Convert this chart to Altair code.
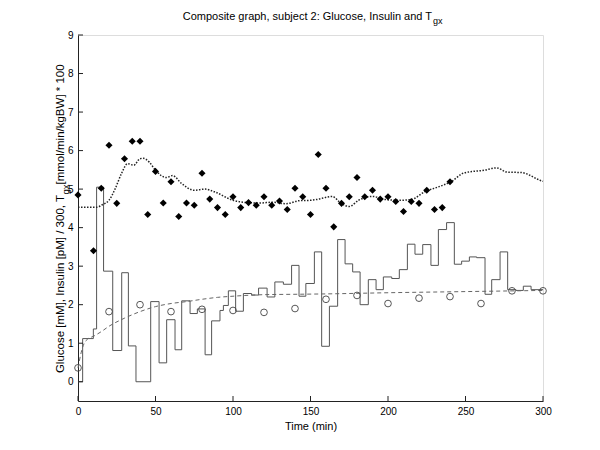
import altair as alt
import pandas as pd

# ---- data ----
diamond_t = [0, 10, 15, 20, 25, 30, 35, 40, 45, 50, 55, 60, 65, 70, 75, 80, 85, 90, 95, 100,
             105, 110, 115, 120, 125, 130, 135, 140, 145, 150, 155, 160, 165, 170, 175, 180,
             185, 190, 195, 200, 205, 210, 215, 220, 225, 230, 235, 240]
diamond_v = [4.85, 3.4, 5.02, 6.14, 4.63, 5.79, 6.24, 6.24, 4.34, 5.46, 4.64, 5.19, 4.29, 4.64,
             4.58, 5.41, 4.74, 4.52, 4.34, 4.8, 4.52, 4.65, 4.58, 4.8, 4.58, 4.69, 4.47, 5.02,
             4.8, 4.34, 5.9, 5.02, 4.02, 4.63, 4.8, 5.3, 4.8, 4.97, 4.74, 4.8, 4.68, 4.42, 4.68,
             4.63, 4.97, 4.47, 4.52, 5.19]

circle_t = [0, 20, 40, 60, 80, 100, 120, 140, 160, 180, 200, 220, 240, 260, 280, 300]
circle_v = [0.36, 1.82, 2.0, 1.82, 1.88, 1.85, 1.8, 1.9, 2.14, 2.24, 2.03, 2.17, 2.21, 2.03, 2.36, 2.36]

fit_t = [0, 2, 4, 6, 10, 15, 20, 30, 40, 50, 60, 70, 80, 90, 100, 120, 140, 160, 200, 250, 300]
fit_v = [0.36, 0.75, 1.0, 1.1, 1.18, 1.3, 1.44, 1.65, 1.82, 1.95, 2.03, 2.08, 2.14, 2.19, 2.22,
         2.26, 2.27, 2.28, 2.31, 2.34, 2.37]

tgx_t = [0, 12, 16, 20, 24, 28, 32, 36, 40, 42, 46, 50, 57, 61, 67, 75, 82, 88, 100, 109, 117,
         126, 134, 143, 150, 154, 164, 170, 175, 181, 190, 198, 207, 215, 224, 232, 241, 249,
         262, 270, 277, 286, 298, 300]
tgx_v = [4.53, 4.53, 4.6, 4.71, 5.01, 5.4, 5.66, 5.62, 5.79, 5.8, 5.7, 5.49, 5.3, 5.35, 5.14,
         4.97, 5.0, 4.93, 4.71, 4.65, 4.64, 4.66, 4.62, 4.7, 4.71, 4.73, 4.81, 4.62, 4.55, 4.71,
         4.81, 4.73, 4.71, 4.73, 4.94, 5.05, 5.2, 5.42, 5.49, 5.55, 5.44, 5.43, 5.23, 5.2]

ins_t = [0, 3, 9.9, 12, 16.5, 22.4, 28.2, 32.5, 37.4, 46.9, 52.3, 57.2, 62.6, 66.9, 72.3, 77,
         82, 86.2, 91.6, 93.8, 97, 101.7, 106.7, 112, 116.5, 122, 127, 132.5, 137.8, 142.6,
         147, 152.5, 157.2, 162.2, 167.5, 172.3, 177.2, 182, 187.3, 192.3, 197, 202.4, 207.3,
         212.5, 217.4, 222.4, 227.7, 232.5, 237.8, 242.8, 247.5, 252.5, 257.2, 262.6, 266.9,
         272.3, 277.2, 282.6, 287.3, 292.3, 300]
ins_v = [0, 1.12, 1.37, 5.05, 2.87, 0.81, 2.83, 0.93, 0, 2.08, 0.49, 1.61, 0.83, 2.1, 1.77, 1.89,
         0.7, 1.58, 1.85, 1.98, 2.36, 1.83, 2.29, 2.25, 2.43, 2.2, 2.59, 2.53, 3.02, 2.22, 2.55,
         3.37, 0.92, 1.96, 3.69, 3.06, 2.85, 2.0, 2.65, 2.39, 2.72, 2.68, 2.91, 3.57, 3.31, 3.56,
         3.02, 3.95, 4.13, 3.05, 3.13, 3.24, 3.22, 2.27, 2.65, 3.37, 2.39, 2.37, 2.48, 2.39, 2.39]

x_ticks = [0, 50, 100, 150, 200, 250, 300]
y_ticks = [0, 1, 2, 3, 4, 5, 6, 7, 8, 9]

W, H = 465, 366
FONT = "Liberation Sans"

xs = alt.Scale(domain=[0, 300], nice=False, zero=False)
ys = alt.Scale(domain=[-0.5, 9], nice=False, zero=False)

x_axis = alt.Axis(values=x_ticks, title="Time (min)", grid=False, ticks=False, tickSize=0,
                  labelPadding=5, titlePadding=4, labelFontSize=10, titleFontSize=11,
                  labelFont=FONT, titleFont=FONT, labelColor="#000", titleColor="#000",
                  titleFontWeight="normal", domainColor="#222", labelFlush=False)
y_axis = alt.Axis(values=y_ticks, title=None, grid=False, ticks=False, tickSize=0,
                  labelPadding=5, labelFontSize=10, labelFont=FONT, labelColor="#000",
                  domainColor="#222")

df_ins = pd.DataFrame({"t": ins_t, "v": ins_v})
df_fit = pd.DataFrame({"t": fit_t, "v": fit_v})
df_tgx = pd.DataFrame({"t": tgx_t, "v": tgx_v})
df_cir = pd.DataFrame({"t": circle_t, "v": circle_v})
df_dia = pd.DataFrame({"t": diamond_t, "v": diamond_v})

ins = alt.Chart(df_ins).mark_line(interpolate="step-after", color="#555555", strokeWidth=1).encode(
    x=alt.X("t:Q", scale=xs, axis=x_axis),
    y=alt.Y("v:Q", scale=ys, axis=y_axis),
)
fit = alt.Chart(df_fit).mark_line(interpolate="monotone", color="#666666", strokeWidth=1,
                                  strokeDash=[4, 3]).encode(
    x=alt.X("t:Q", scale=xs), y=alt.Y("v:Q", scale=ys))
tgx = alt.Chart(df_tgx).mark_line(interpolate="monotone", color="#222222", strokeWidth=1.5,
                                  strokeDash=[1.5, 1.5]).encode(
    x=alt.X("t:Q", scale=xs), y=alt.Y("v:Q", scale=ys))
cir = alt.Chart(df_cir).mark_point(shape="circle", filled=False, color="#444444", size=45,
                                   strokeWidth=0.9, opacity=1).encode(
    x=alt.X("t:Q", scale=xs), y=alt.Y("v:Q", scale=ys))
dia = alt.Chart(df_dia).mark_point(shape="diamond", filled=True, color="#000000", size=50,
                                   opacity=1).encode(
    x=alt.X("t:Q", scale=xs), y=alt.Y("v:Q", scale=ys))

# inward ticks (MATLAB style)
xt = alt.Chart(pd.DataFrame({"t": x_ticks})).mark_rule(color="#222", strokeWidth=1).encode(
    x=alt.X("t:Q", scale=xs), y=alt.value(H), y2=alt.value(H - 5))
yt = alt.Chart(pd.DataFrame({"v": y_ticks})).mark_rule(color="#222", strokeWidth=1).encode(
    y=alt.Y("v:Q", scale=ys), x=alt.value(0), x2=alt.value(5))

# title with subscript
title_main = alt.Chart(pd.DataFrame({"s": ["Composite graph, subject 2: Glucose, Insulin and T"]})).mark_text(
    font=FONT, fontSize=11, align="right", baseline="alphabetic", color="#000").encode(
    text="s:N", x=alt.value(354), y=alt.value(-15))
title_sub = alt.Chart(pd.DataFrame({"s": ["gx"]})).mark_text(
    font=FONT, fontSize=9, align="left", baseline="alphabetic", color="#000").encode(
    text="s:N", x=alt.value(355), y=alt.value(-11))

# rotated y-axis title with subscript
YC = 160
yl1 = alt.Chart(pd.DataFrame({"s": ["Glucose [mM], Insulin [pM] / 300, T"]})).mark_text(
    font=FONT, fontSize=11.5, angle=270, align="right", baseline="middle", color="#000").encode(
    text="s:N", x=alt.value(-17), y=alt.value(YC))
yl2 = alt.Chart(pd.DataFrame({"s": ["gx"]})).mark_text(
    font=FONT, fontSize=9.5, angle=270, align="left", baseline="middle", color="#000").encode(
    text="s:N", x=alt.value(-12), y=alt.value(YC - 0.5))
yl3 = alt.Chart(pd.DataFrame({"s": [" [mmol/min/kgBW] * 100"]})).mark_text(
    font=FONT, fontSize=11.5, angle=270, align="left", baseline="middle", color="#000").encode(
    text="s:N", x=alt.value(-17), y=alt.value(YC - 10.5))

chart = alt.layer(ins, fit, tgx, cir, dia, xt, yt, title_main, title_sub, yl1, yl2, yl3).properties(
    width=W, height=H,
    autosize=alt.AutoSizeParams(type="none"),
    padding={"left": 70, "top": 27, "right": 49, "bottom": 41},
).configure_view(stroke=None).configure(background="white")

chart.save("out.html", embed_options={"renderer": "svg", "actions": False})
